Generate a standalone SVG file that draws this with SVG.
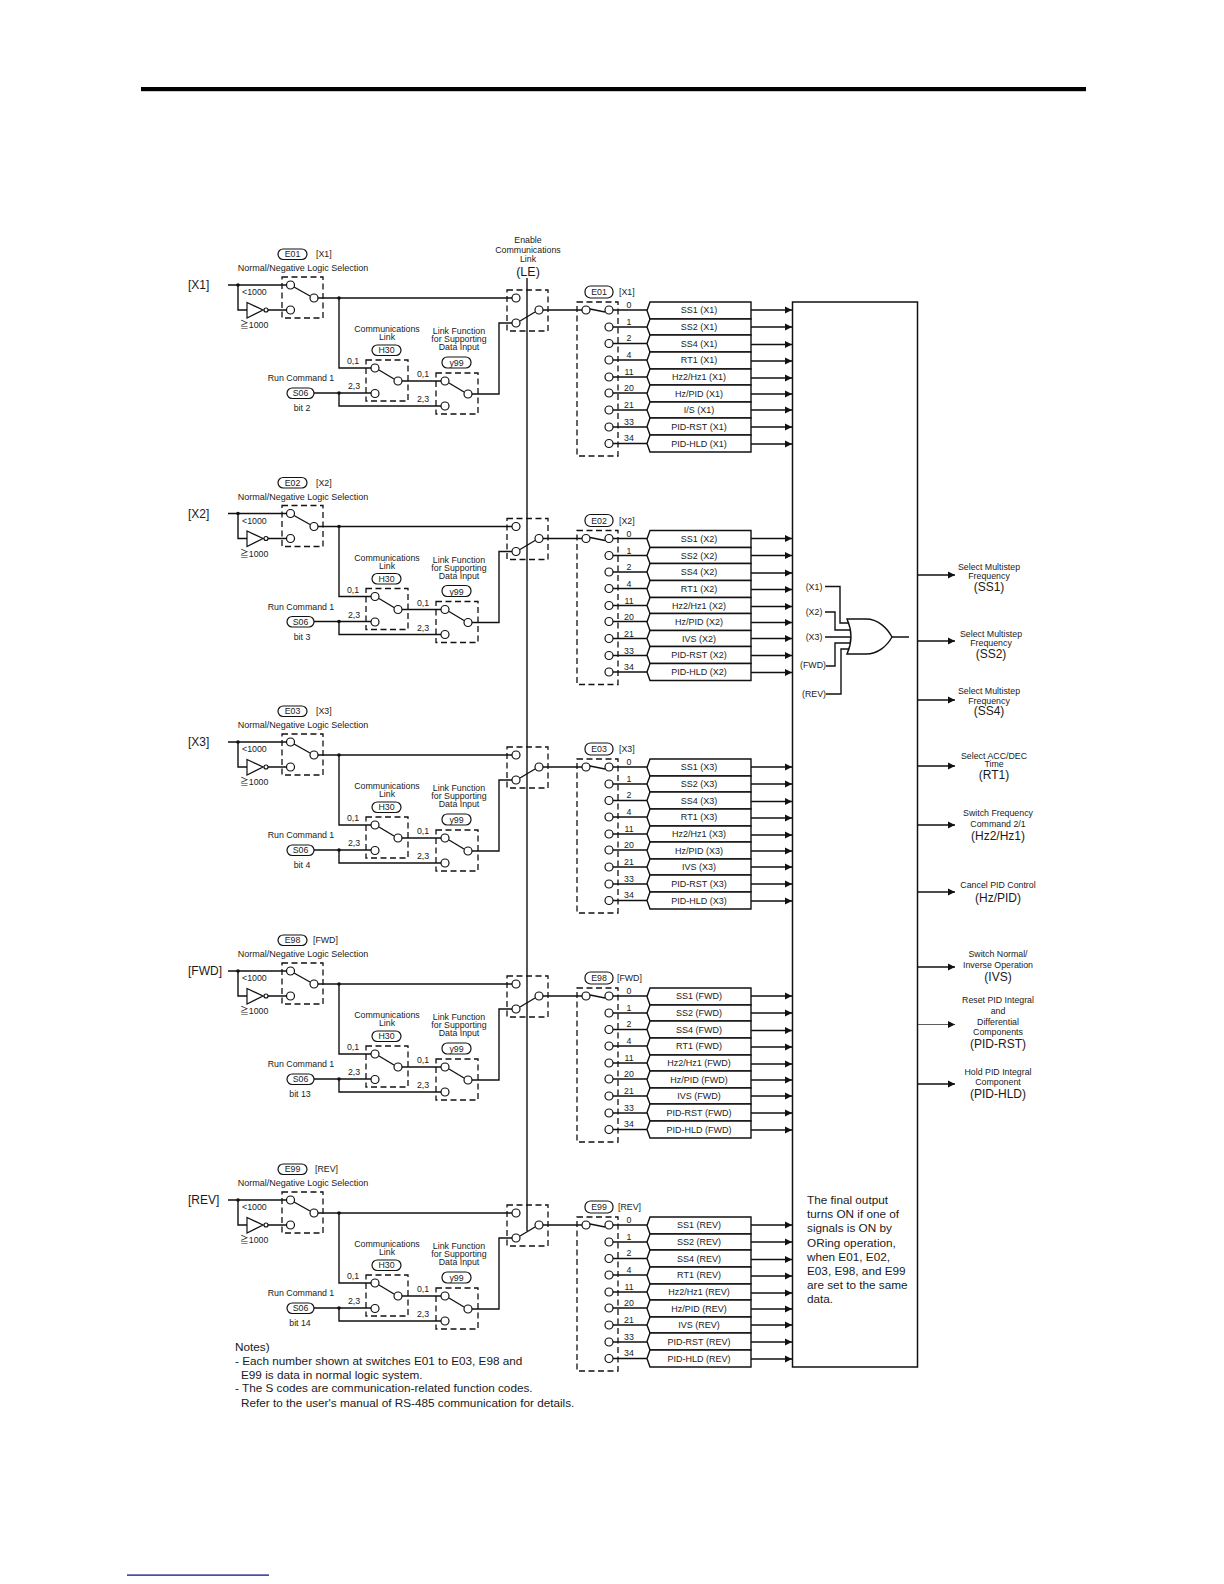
<svg xmlns="http://www.w3.org/2000/svg" xmlns:xlink="http://www.w3.org/1999/xlink" width="1224" height="1584" viewBox="0 0 1224 1584">
<style>
text{font-family:"Liberation Sans","Noto Sans CJK JP",Arial,sans-serif;fill:#1a1a1a;dominant-baseline:central;font-size:8.8px}
.m{text-anchor:middle}
.s9{font-size:9px}
.b{font-size:12px}
.n{font-size:11.75px}
.l{font-size:12.5px}
.w{fill:none;stroke:#111;stroke-width:1.4}
.thin{fill:none;stroke:#333;stroke-width:.8}
.box{fill:none;stroke:#111;stroke-width:1.3;stroke-dasharray:6 3.5}
.c{fill:#fff;stroke:#111;stroke-width:1.2}
.pill{fill:#fff;stroke:#111;stroke-width:1.2}
.row{fill:#fff;stroke:#111;stroke-width:1.4}
.dot{fill:#111}
</style>
<defs>
<marker id="ah" markerUnits="userSpaceOnUse" markerWidth="8" markerHeight="8" refX="7" refY="4" orient="auto"><path d="M0,.5L7,4L0,7.5Z" fill="#111"/></marker>
<g id="wires">
<path class="w" d="M228,285H288M238,285V310H247M268,310H287M318,298H512M339,298V368H372M314,393H372M339,393V406H441M402,381H441M472,394H499V323H512M543,310H582M613,310H647M613,327H647M613,343.5H647M613,360H647M613,377H647M613,393H647M613,410H647M613,427H647M613,443.5H647"/>
<path class="w" marker-end="url(#ah)" d="M751,310H792"/>
<path class="w" marker-end="url(#ah)" d="M751,327H792"/>
<path class="w" marker-end="url(#ah)" d="M751,344.5H792"/>
<path class="w" marker-end="url(#ah)" d="M751,361H792"/>
<path class="w" marker-end="url(#ah)" d="M751,378H792"/>
<path class="w" marker-end="url(#ah)" d="M751,394H792"/>
<path class="w" marker-end="url(#ah)" d="M751,410H792"/>
<path class="w" marker-end="url(#ah)" d="M751,427H792"/>
<path class="w" marker-end="url(#ah)" d="M751,444H792"/>
<circle class="dot" cx="238" cy="285" r="1.8"/><circle class="dot" cx="339" cy="298" r="1.8"/><circle class="dot" cx="339" cy="393" r="1.8"/>
</g>
<g id="inv"><path d="M247,302.5L263,310L247,318Z" fill="#fff" stroke="#111" stroke-width="1.2"/><circle class="c" cx="266" cy="310" r="2"/></g>
<g id="sw-logic"><rect class="box" x="282" y="277" width="41" height="41"/><path class="w" d="M294,287L310,296"/><circle class="c" cx="290.5" cy="285" r="4"/><circle class="c" cx="290.5" cy="310" r="4"/><circle class="c" cx="314" cy="298" r="4"/></g>
<g id="sw-h30"><rect class="box" x="366" y="360" width="42" height="41"/><path class="w" d="M379,370L394,379"/><circle class="c" cx="375" cy="368" r="4"/><circle class="c" cx="375" cy="393.500" r="4"/><circle class="c" cx="398" cy="381" r="4"/></g>
<g id="sw-y99"><rect class="box" x="436" y="373" width="42" height="41"/><path class="w" d="M449,383L464,392"/><circle class="c" cx="445" cy="381" r="4"/><circle class="c" cx="445" cy="406" r="4"/><circle class="c" cx="468" cy="394" r="4"/></g>
<g id="sw-le"><rect class="box" x="507" y="290" width="41" height="41"/><path class="w" d="M520,321L535,312"/><circle class="c" cx="516" cy="298" r="4"/><circle class="c" cx="516" cy="323" r="4"/><circle class="c" cx="539" cy="310" r="4"/></g>
<g id="sw-sel"><rect class="box" x="577" y="302" width="41" height="154"/><path class="w" d="M590,309L605,312"/><circle class="c" cx="586" cy="310" r="4"/><circle class="c" cx="609" cy="310" r="4"/><circle class="c" cx="609" cy="327" r="4"/><circle class="c" cx="609" cy="343.500" r="4"/><circle class="c" cx="609" cy="360" r="4"/><circle class="c" cx="609" cy="377" r="4"/><circle class="c" cx="609" cy="393" r="4"/><circle class="c" cx="609" cy="410" r="4"/><circle class="c" cx="609" cy="427" r="4"/><circle class="c" cx="609" cy="443.500" r="4"/></g>
<g id="tbl">
<path class="row" d="M650,302H751V319H650L647,310.500Z"/><path class="row" d="M650,319H751V335H650L647,327Z"/><path class="row" d="M650,335H751V352H650L647,343.500Z"/><path class="row" d="M650,352H751V369H650L647,360.500Z"/><path class="row" d="M650,369H751V385H650L647,377Z"/><path class="row" d="M650,385H751V402H650L647,393.500Z"/><path class="row" d="M650,402H751V418H650L647,410Z"/><path class="row" d="M650,418H751V435H650L647,426.500Z"/><path class="row" d="M650,435H751V452H650L647,443.500Z"/>
</g>
</defs>
<rect width="1224" height="1584" fill="#fff"/>
<rect id="top-rule" x="141" y="87" width="945" height="4.200" fill="#000"/>
<rect id="foot-rule" x="127" y="1574.500" width="142" height="1.200" fill="#000080"/>

<g id="connectors">
<path class="w" d="M527,278V1231"/>
<use href="#wires"/>
<use href="#wires" y="228.500"/>
<use href="#wires" y="457"/>
<use href="#wires" y="686"/>
<use href="#wires" y="915"/>
</g>

<g id="output-box"><rect x="792.500" y="302" width="125" height="1065" fill="none" stroke="#111" stroke-width="1.500"/>
<text x="807" y="1199" class="n">The final output</text>
<text x="807" y="1213" class="n">turns ON if one of</text>
<text x="807" y="1227" class="n">signals is ON by</text>
<text x="807" y="1242" class="n">ORing operation,</text>
<text x="807" y="1256" class="n">when E01, E02,</text>
<text x="807" y="1270" class="n">E03, E98, and E99</text>
<text x="807" y="1284" class="n">are set to the same</text>
<text x="807" y="1298" class="n">data.</text>
</g>

<g id="block-x1">
<g id="x1-input"><text x="188" y="285" class="b">[X1]</text><use href="#inv"/><text x="242" y="292">&lt;1000</text><text x="240" y="325">≧1000</text></g>
<g id="x1-logic"><use href="#sw-logic"/><rect class="pill" x="278" y="249" width="29" height="10.500" rx="5.200"/><text x="292.500" y="254" class="m">E01</text><text x="316" y="254">[X1]</text><text x="303" y="268" class="m s9">Normal/Negative Logic Selection</text></g>
<g id="x1-h30"><use href="#sw-h30"/><text x="387" y="329" class="m">Communications</text><text x="387" y="337" class="m">Link</text><rect class="pill" x="372" y="345" width="29" height="10.500" rx="5.200"/><text x="386.500" y="350" class="m">H30</text><text x="353" y="361" class="m">0,1</text><text x="354" y="386" class="m">2,3</text></g>
<g id="x1-s06"><text x="301" y="378" class="m">Run Command 1</text><rect class="pill" x="287" y="388" width="27" height="10.500" rx="5.200"/><text x="300.500" y="393" class="m">S06</text><text x="302" y="408" class="m">bit 2</text></g>
<g id="x1-y99"><use href="#sw-y99"/><text x="459" y="331" class="m">Link Function</text><text x="459" y="339" class="m">for Supporting</text><text x="459" y="347" class="m">Data Input</text><rect class="pill" x="442" y="357" width="29" height="11" rx="5.200"/><text x="456.500" y="363" class="m">y99</text><text x="423" y="374" class="m">0,1</text><text x="423" y="399" class="m">2,3</text></g>
<g id="x1-le"><use href="#sw-le"/></g>
<g id="x1-sel"><use href="#sw-sel"/><rect class="pill" x="585" y="286" width="28" height="12" rx="5.500"/><text x="599" y="292" class="m">E01</text><text x="619" y="292">[X1]</text>
<text x="629" y="305" class="m">0</text><text x="629" y="322" class="m">1</text><text x="629" y="338" class="m">2</text><text x="629" y="355" class="m">4</text><text x="629" y="372" class="m">11</text><text x="629" y="388" class="m">20</text><text x="629" y="405" class="m">21</text><text x="629" y="422" class="m">33</text><text x="629" y="438" class="m">34</text></g>
<g id="x1-table"><use href="#tbl"/><text x="699" y="310" class="m s9">SS1 (X1)</text><text x="699" y="327" class="m s9">SS2 (X1)</text><text x="699" y="343.500" class="m s9">SS4 (X1)</text><text x="699" y="360" class="m s9">RT1 (X1)</text><text x="699" y="377" class="m s9">Hz2/Hz1 (X1)</text><text x="699" y="393.500" class="m s9">Hz/PID (X1)</text><text x="699" y="410" class="m s9">I/S (X1)</text><text x="699" y="426.500" class="m s9">PID-RST (X1)</text><text x="699" y="443.500" class="m s9">PID-HLD (X1)</text></g>
</g>

<g id="le-title"><text x="528" y="240" class="m">Enable</text><text x="528" y="250" class="m">Communications</text><text x="528" y="259" class="m">Link</text><text x="528" y="272" class="m l">(LE)</text></g>

<g id="block-x2" transform="translate(0,228.500)">
<g id="x2-input"><text x="188" y="285" class="b">[X2]</text><use href="#inv"/><text x="242" y="292">&lt;1000</text><text x="240" y="325">≧1000</text></g>
<g id="x2-logic"><use href="#sw-logic"/><rect class="pill" x="278" y="249" width="29" height="10.500" rx="5.200"/><text x="292.500" y="254" class="m">E02</text><text x="316" y="254">[X2]</text><text x="303" y="268" class="m s9">Normal/Negative Logic Selection</text></g>
<g id="x2-h30"><use href="#sw-h30"/><text x="387" y="329" class="m">Communications</text><text x="387" y="337" class="m">Link</text><rect class="pill" x="372" y="345" width="29" height="10.500" rx="5.200"/><text x="386.500" y="350" class="m">H30</text><text x="353" y="361" class="m">0,1</text><text x="354" y="386" class="m">2,3</text></g>
<g id="x2-s06"><text x="301" y="378" class="m">Run Command 1</text><rect class="pill" x="287" y="388" width="27" height="10.500" rx="5.200"/><text x="300.500" y="393" class="m">S06</text><text x="302" y="408" class="m">bit 3</text></g>
<g id="x2-y99"><use href="#sw-y99"/><text x="459" y="331" class="m">Link Function</text><text x="459" y="339" class="m">for Supporting</text><text x="459" y="347" class="m">Data Input</text><rect class="pill" x="442" y="357" width="29" height="11" rx="5.200"/><text x="456.500" y="363" class="m">y99</text><text x="423" y="374" class="m">0,1</text><text x="423" y="399" class="m">2,3</text></g>
<g id="x2-le"><use href="#sw-le"/></g>
<g id="x2-sel"><use href="#sw-sel"/><rect class="pill" x="585" y="286" width="28" height="12" rx="5.500"/><text x="599" y="292" class="m">E02</text><text x="619" y="292">[X2]</text>
<text x="629" y="305" class="m">0</text><text x="629" y="322" class="m">1</text><text x="629" y="338" class="m">2</text><text x="629" y="355" class="m">4</text><text x="629" y="372" class="m">11</text><text x="629" y="388" class="m">20</text><text x="629" y="405" class="m">21</text><text x="629" y="422" class="m">33</text><text x="629" y="438" class="m">34</text></g>
<g id="x2-table"><use href="#tbl"/><text x="699" y="310" class="m s9">SS1 (X2)</text><text x="699" y="327" class="m s9">SS2 (X2)</text><text x="699" y="343.500" class="m s9">SS4 (X2)</text><text x="699" y="360" class="m s9">RT1 (X2)</text><text x="699" y="377" class="m s9">Hz2/Hz1 (X2)</text><text x="699" y="393.500" class="m s9">Hz/PID (X2)</text><text x="699" y="410" class="m s9">IVS (X2)</text><text x="699" y="426.500" class="m s9">PID-RST (X2)</text><text x="699" y="443.500" class="m s9">PID-HLD (X2)</text></g>
</g>

<g id="block-x3" transform="translate(0,457)">
<g id="x3-input"><text x="188" y="285" class="b">[X3]</text><use href="#inv"/><text x="242" y="292">&lt;1000</text><text x="240" y="325">≧1000</text></g>
<g id="x3-logic"><use href="#sw-logic"/><rect class="pill" x="278" y="249" width="29" height="10.500" rx="5.200"/><text x="292.500" y="254" class="m">E03</text><text x="316" y="254">[X3]</text><text x="303" y="268" class="m s9">Normal/Negative Logic Selection</text></g>
<g id="x3-h30"><use href="#sw-h30"/><text x="387" y="329" class="m">Communications</text><text x="387" y="337" class="m">Link</text><rect class="pill" x="372" y="345" width="29" height="10.500" rx="5.200"/><text x="386.500" y="350" class="m">H30</text><text x="353" y="361" class="m">0,1</text><text x="354" y="386" class="m">2,3</text></g>
<g id="x3-s06"><text x="301" y="378" class="m">Run Command 1</text><rect class="pill" x="287" y="388" width="27" height="10.500" rx="5.200"/><text x="300.500" y="393" class="m">S06</text><text x="302" y="408" class="m">bit 4</text></g>
<g id="x3-y99"><use href="#sw-y99"/><text x="459" y="331" class="m">Link Function</text><text x="459" y="339" class="m">for Supporting</text><text x="459" y="347" class="m">Data Input</text><rect class="pill" x="442" y="357" width="29" height="11" rx="5.200"/><text x="456.500" y="363" class="m">y99</text><text x="423" y="374" class="m">0,1</text><text x="423" y="399" class="m">2,3</text></g>
<g id="x3-le"><use href="#sw-le"/></g>
<g id="x3-sel"><use href="#sw-sel"/><rect class="pill" x="585" y="286" width="28" height="12" rx="5.500"/><text x="599" y="292" class="m">E03</text><text x="619" y="292">[X3]</text>
<text x="629" y="305" class="m">0</text><text x="629" y="322" class="m">1</text><text x="629" y="338" class="m">2</text><text x="629" y="355" class="m">4</text><text x="629" y="372" class="m">11</text><text x="629" y="388" class="m">20</text><text x="629" y="405" class="m">21</text><text x="629" y="422" class="m">33</text><text x="629" y="438" class="m">34</text></g>
<g id="x3-table"><use href="#tbl"/><text x="699" y="310" class="m s9">SS1 (X3)</text><text x="699" y="327" class="m s9">SS2 (X3)</text><text x="699" y="343.500" class="m s9">SS4 (X3)</text><text x="699" y="360" class="m s9">RT1 (X3)</text><text x="699" y="377" class="m s9">Hz2/Hz1 (X3)</text><text x="699" y="393.500" class="m s9">Hz/PID (X3)</text><text x="699" y="410" class="m s9">IVS (X3)</text><text x="699" y="426.500" class="m s9">PID-RST (X3)</text><text x="699" y="443.500" class="m s9">PID-HLD (X3)</text></g>
</g>

<g id="block-fwd" transform="translate(0,686)">
<g id="fwd-input"><text x="188" y="285" class="b">[FWD]</text><use href="#inv"/><text x="242" y="292">&lt;1000</text><text x="240" y="325">≧1000</text></g>
<g id="fwd-logic"><use href="#sw-logic"/><rect class="pill" x="278" y="249" width="29" height="10.500" rx="5.200"/><text x="292.500" y="254" class="m">E98</text><text x="313" y="254">[FWD]</text><text x="303" y="268" class="m s9">Normal/Negative Logic Selection</text></g>
<g id="fwd-h30"><use href="#sw-h30"/><text x="387" y="329" class="m">Communications</text><text x="387" y="337" class="m">Link</text><rect class="pill" x="372" y="345" width="29" height="10.500" rx="5.200"/><text x="386.500" y="350" class="m">H30</text><text x="353" y="361" class="m">0,1</text><text x="354" y="386" class="m">2,3</text></g>
<g id="fwd-s06"><text x="301" y="378" class="m">Run Command 1</text><rect class="pill" x="287" y="388" width="27" height="10.500" rx="5.200"/><text x="300.500" y="393" class="m">S06</text><text x="300" y="408" class="m">bit 13</text></g>
<g id="fwd-y99"><use href="#sw-y99"/><text x="459" y="331" class="m">Link Function</text><text x="459" y="339" class="m">for Supporting</text><text x="459" y="347" class="m">Data Input</text><rect class="pill" x="442" y="357" width="29" height="11" rx="5.200"/><text x="456.500" y="363" class="m">y99</text><text x="423" y="374" class="m">0,1</text><text x="423" y="399" class="m">2,3</text></g>
<g id="fwd-le"><use href="#sw-le"/></g>
<g id="fwd-sel"><use href="#sw-sel"/><rect class="pill" x="585" y="286" width="28" height="12" rx="5.500"/><text x="599" y="292" class="m">E98</text><text x="617" y="292">[FWD]</text>
<text x="629" y="305" class="m">0</text><text x="629" y="322" class="m">1</text><text x="629" y="338" class="m">2</text><text x="629" y="355" class="m">4</text><text x="629" y="372" class="m">11</text><text x="629" y="388" class="m">20</text><text x="629" y="405" class="m">21</text><text x="629" y="422" class="m">33</text><text x="629" y="438" class="m">34</text></g>
<g id="fwd-table"><use href="#tbl"/><text x="699" y="310" class="m s9">SS1 (FWD)</text><text x="699" y="327" class="m s9">SS2 (FWD)</text><text x="699" y="343.500" class="m s9">SS4 (FWD)</text><text x="699" y="360" class="m s9">RT1 (FWD)</text><text x="699" y="377" class="m s9">Hz2/Hz1 (FWD)</text><text x="699" y="393.500" class="m s9">Hz/PID (FWD)</text><text x="699" y="410" class="m s9">IVS (FWD)</text><text x="699" y="426.500" class="m s9">PID-RST (FWD)</text><text x="699" y="443.500" class="m s9">PID-HLD (FWD)</text></g>
</g>

<g id="block-rev" transform="translate(0,915)">
<g id="rev-input"><text x="188" y="285" class="b">[REV]</text><use href="#inv"/><text x="242" y="292">&lt;1000</text><text x="240" y="325">≧1000</text></g>
<g id="rev-logic"><use href="#sw-logic"/><rect class="pill" x="278" y="249" width="29" height="10.500" rx="5.200"/><text x="292.500" y="254" class="m">E99</text><text x="315" y="254">[REV]</text><text x="303" y="268" class="m s9">Normal/Negative Logic Selection</text></g>
<g id="rev-h30"><use href="#sw-h30"/><text x="387" y="329" class="m">Communications</text><text x="387" y="337" class="m">Link</text><rect class="pill" x="372" y="345" width="29" height="10.500" rx="5.200"/><text x="386.500" y="350" class="m">H30</text><text x="353" y="361" class="m">0,1</text><text x="354" y="386" class="m">2,3</text></g>
<g id="rev-s06"><text x="301" y="378" class="m">Run Command 1</text><rect class="pill" x="287" y="388" width="27" height="10.500" rx="5.200"/><text x="300.500" y="393" class="m">S06</text><text x="300" y="408" class="m">bit 14</text></g>
<g id="rev-y99"><use href="#sw-y99"/><text x="459" y="331" class="m">Link Function</text><text x="459" y="339" class="m">for Supporting</text><text x="459" y="347" class="m">Data Input</text><rect class="pill" x="442" y="357" width="29" height="11" rx="5.200"/><text x="456.500" y="363" class="m">y99</text><text x="423" y="374" class="m">0,1</text><text x="423" y="399" class="m">2,3</text></g>
<g id="rev-le"><use href="#sw-le"/></g>
<g id="rev-sel"><use href="#sw-sel"/><rect class="pill" x="585" y="286" width="28" height="12" rx="5.500"/><text x="599" y="292" class="m">E99</text><text x="618" y="292">[REV]</text>
<text x="629" y="305" class="m">0</text><text x="629" y="322" class="m">1</text><text x="629" y="338" class="m">2</text><text x="629" y="355" class="m">4</text><text x="629" y="372" class="m">11</text><text x="629" y="388" class="m">20</text><text x="629" y="405" class="m">21</text><text x="629" y="422" class="m">33</text><text x="629" y="438" class="m">34</text></g>
<g id="rev-table"><use href="#tbl"/><text x="699" y="310" class="m s9">SS1 (REV)</text><text x="699" y="327" class="m s9">SS2 (REV)</text><text x="699" y="343.500" class="m s9">SS4 (REV)</text><text x="699" y="360" class="m s9">RT1 (REV)</text><text x="699" y="377" class="m s9">Hz2/Hz1 (REV)</text><text x="699" y="393.500" class="m s9">Hz/PID (REV)</text><text x="699" y="410" class="m s9">IVS (REV)</text><text x="699" y="426.500" class="m s9">PID-RST (REV)</text><text x="699" y="443.500" class="m s9">PID-HLD (REV)</text></g>
</g>

<g id="or-gate">
<path class="w" d="M825,586.500H840V623H850M825,612H835V630H851M825,637H852M826,666H835V643H851M826,694H841V649H850M892,637H909"/>
<path d="M847,619H866C878,619 887,628 892,637C887,646 878,654 866,654H847C852,643 852,630 847,619Z" fill="#fff" stroke="#111" stroke-width="1.400"/>
<text x="814" y="587" class="m">(X1)</text><text x="814" y="612" class="m">(X2)</text><text x="814" y="637" class="m">(X3)</text><text x="813" y="665" class="m">(FWD)</text><text x="814" y="694" class="m">(REV)</text>
</g>

<g id="out-ss1"><path class="w" marker-end="url(#ah)" d="M918,575H955"/><text x="989" y="567" class="m">Select Multistep</text><text x="989" y="576" class="m">Frequency</text><text x="989" y="587" class="m b">(SS1)</text></g>
<g id="out-ss2"><path class="w" marker-end="url(#ah)" d="M918,641H955"/><text x="991" y="634" class="m">Select Multistep</text><text x="991" y="643" class="m">Frequency</text><text x="991" y="654" class="m b">(SS2)</text></g>
<g id="out-ss4"><path class="w" marker-end="url(#ah)" d="M918,700H955"/><text x="989" y="691" class="m">Select Multistep</text><text x="989" y="701" class="m">Frequency</text><text x="989" y="711" class="m b">(SS4)</text></g>
<g id="out-rt1"><path class="w" marker-end="url(#ah)" d="M918,766H955"/><text x="994" y="756" class="m">Select ACC/DEC</text><text x="994" y="764" class="m">Time</text><text x="994" y="775" class="m b">(RT1)</text></g>
<g id="out-hz2"><path class="w" marker-end="url(#ah)" d="M918,825H955"/><text x="998" y="813" class="m">Switch Frequency</text><text x="998" y="824" class="m">Command 2/1</text><text x="998" y="836" class="m b">(Hz2/Hz1)</text></g>
<g id="out-hzpid"><path class="w" marker-end="url(#ah)" d="M918,892H955"/><text x="998" y="885" class="m">Cancel PID Control</text><text x="998" y="898" class="m b">(Hz/PID)</text></g>
<g id="out-ivs"><path class="w" marker-end="url(#ah)" d="M918,967H955"/><text x="998" y="953.500" class="m">Switch Normal/</text><text x="998" y="965" class="m">Inverse Operation</text><text x="998" y="977" class="m b">(IVS)</text></g>
<g id="out-pidrst"><path class="thin" marker-end="url(#ah)" d="M918,1024.500H955"/><text x="998" y="1000" class="m">Reset PID Integral</text><text x="998" y="1011" class="m">and</text><text x="998" y="1022" class="m">Differential</text><text x="998" y="1032" class="m">Components</text><text x="998" y="1044" class="m b">(PID-RST)</text></g>
<g id="out-pidhld"><path class="w" marker-end="url(#ah)" d="M918,1084H955"/><text x="998" y="1071.500" class="m">Hold PID Integral</text><text x="998" y="1082" class="m">Component</text><text x="998" y="1094" class="m b">(PID-HLD)</text></g>

<g id="notes">
<text x="235" y="1346" class="n">Notes)</text>
<text x="235" y="1360" class="n">- Each number shown at switches E01 to E03, E98 and</text>
<text x="241" y="1374" class="n">E99 is data in normal logic system.</text>
<text x="235" y="1387.500" class="n">- The S codes are communication-related function codes.</text>
<text x="241" y="1402" class="n">Refer to the user's manual of RS-485 communication for details.</text>
</g>
</svg>
